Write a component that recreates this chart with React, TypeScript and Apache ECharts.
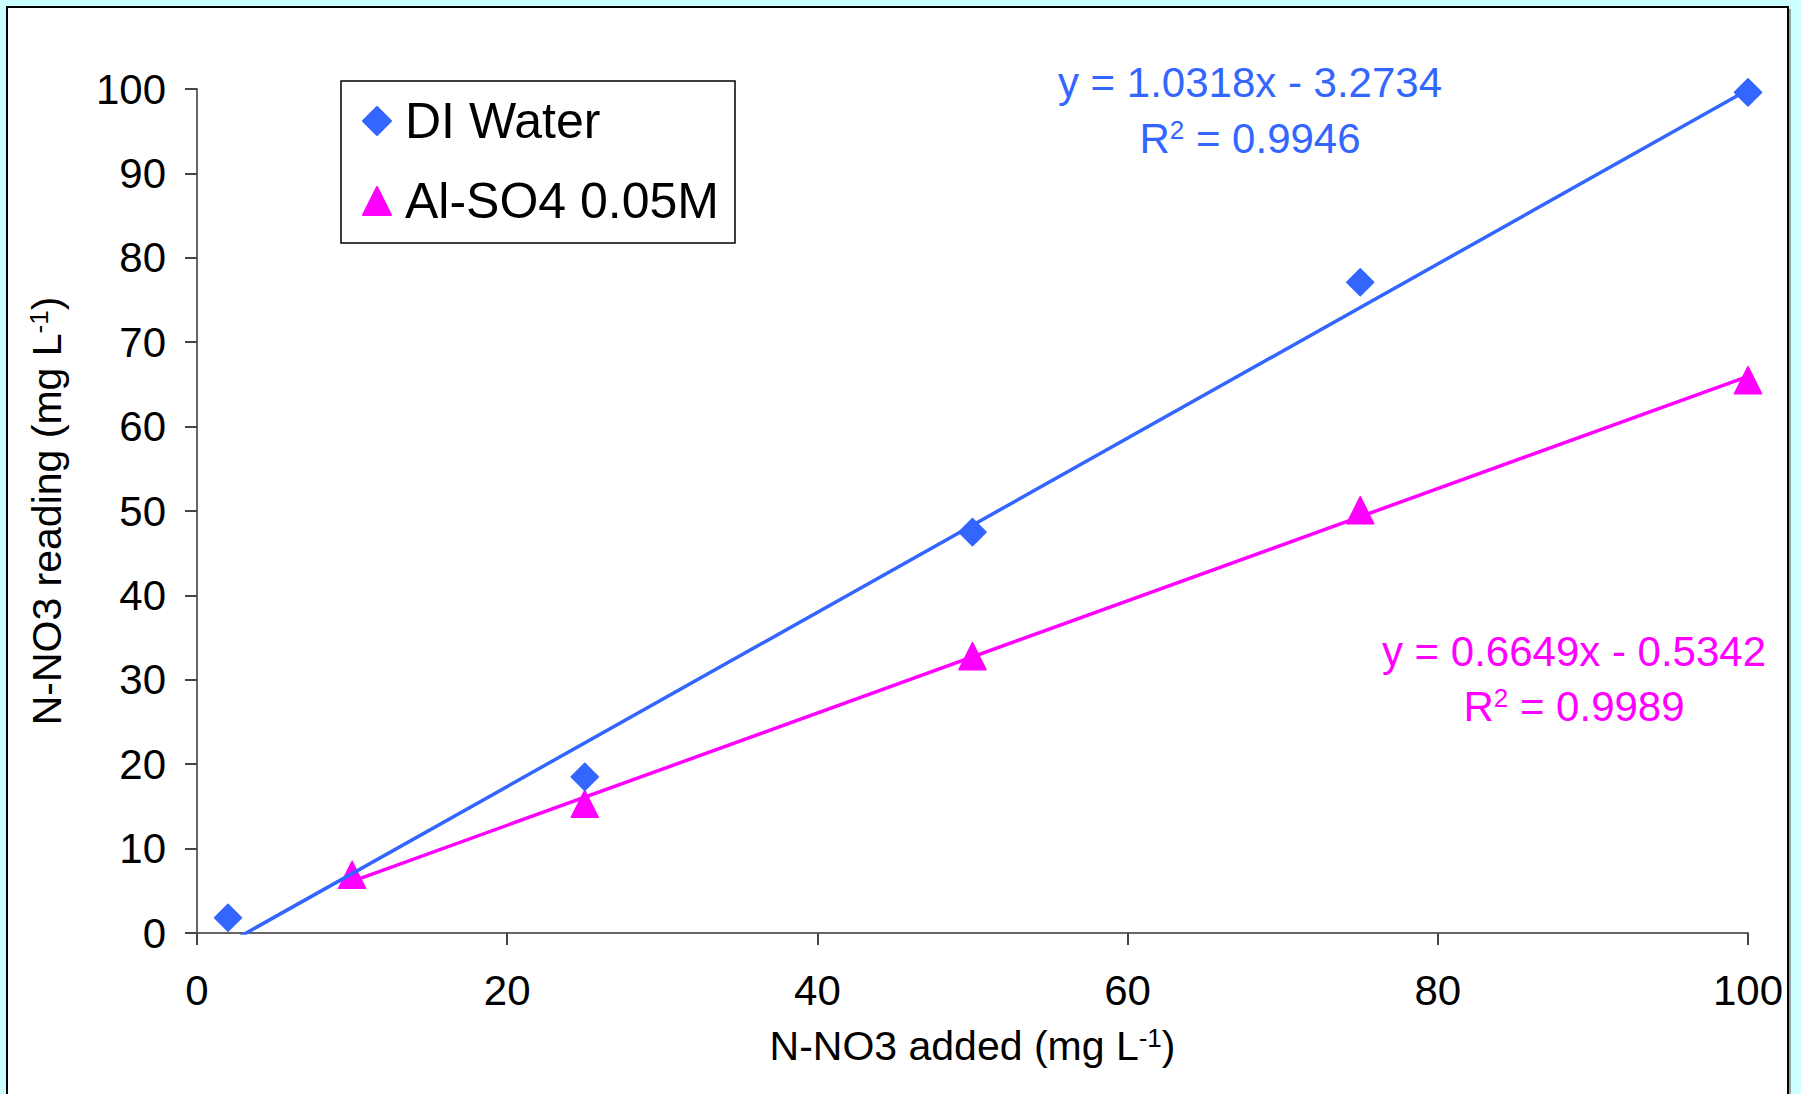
import React, { useEffect, useRef } from "react";
import * as echarts from "echarts";

// ---- data ----
const diName = "DI Water";
const alName = "Al-SO4 0.05M";
const diX = [2, 25, 50, 75, 100];
const diY = [1.8, 18.5, 47.5, 77.1, 99.6];
const alX = [10, 25, 50, 75, 100];
const alY = [6.9, 15.3, 32.8, 50.1, 65.5];
// trendline coefficients shown on the chart: [slope, intercept]
const diFit = [1.0318, -3.2734];
const alFit = [0.6649, -0.5342];
const diEq = ["y = 1.0318x - 3.2734", "R{s|2} = 0.9946"];
const alEq = ["y = 0.6649x - 0.5342", "R{s|2} = 0.9989"];
const xAxisTitle = "N-NO3 added (mg L{s|-1})";
const yAxisTitle = "N-NO3 reading (mg L{s|-1})";

const FONT = "'Liberation Sans', Arial, sans-serif";
const BLUE = "#3366FF";
const MAGENTA = "#FF00FF";

function pairs(xs: number[], ys: number[]) {
  return xs.map((x, i) => [x, ys[i]]);
}
function fitLine(xs: number[], fit: number[]) {
  const x0 = Math.min(...xs);
  const x1 = Math.max(...xs);
  return [
    [x0, fit[0] * x0 + fit[1]],
    [x1, fit[0] * x1 + fit[1]],
  ];
}

export default function App() {
  const ref = useRef<HTMLDivElement>(null);
  useEffect(() => {
    if (!ref.current) return;
    const chart = echarts.init(ref.current, null, { renderer: "svg" });
    const supRich = (color: string, sup: number) => ({
      s: { fontSize: sup, fontFamily: FONT, color, verticalAlign: "top" },
    });
    const eqText = (lines: string[], color: string, cx: number, ys: number[]) =>
      lines.map((t, i) => ({
        type: "text",
        x: cx,
        y: ys[i],
        z: 100,
        silent: true,
        style: {
          text: t,
          fill: color,
          fontSize: 42,
          fontFamily: FONT,
          align: "center",
          verticalAlign: "middle",
          rich: supRich(color, 26),
        },
      }));
    chart.setOption({
      animation: false,
      backgroundColor: "#CCFFFF",
      textStyle: { fontFamily: FONT },
      grid: { left: 197, right: 53, top: 89, bottom: 161, containLabel: false },
      graphic: [
        {
          type: "rect",
          z: -10,
          silent: true,
          shape: { x: 1789, y: 9, width: 2, height: 1100 },
          style: { fill: "#8fa3a3" },
        },
        {
          type: "rect",
          z: -10,
          silent: true,
          shape: { x: 7, y: 7, width: 1781, height: 1100 },
          style: { fill: "#ffffff", stroke: "#000000", lineWidth: 2 },
        },
        ...eqText(diEq, BLUE, 1250, [82, 138]),
        ...eqText(alEq, MAGENTA, 1574, [651, 706]),
      ],
      legend: {
        data: [
          { name: diName, icon: "diamond" },
          { name: alName, icon: "triangle" },
        ],
        orient: "vertical",
        left: 341,
        top: 81,
        itemWidth: 28,
        itemHeight: 28,
        itemGap: 30,
        padding: [15, 16, 17, 21],
        borderColor: "#000",
        borderWidth: 1.5,
        borderRadius: 0,
        backgroundColor: "#ffffff",
        selectedMode: false,
        textStyle: { fontSize: 50, fontFamily: FONT, color: "#000", padding: [0, 0, 0, 9] },
      },
      xAxis: {
        type: "value",
        min: 0,
        max: 100,
        interval: 20,
        name: xAxisTitle,
        nameLocation: "middle",
        nameGap: 92,
        nameTextStyle: {
          fontSize: 41,
          fontFamily: FONT,
          color: "#000",
          rich: { s: { fontSize: 26, fontFamily: FONT, color: "#000", verticalAlign: "top" } },
        },
        axisLine: { onZero: false, lineStyle: { color: "#666", width: 2 } },
        axisTick: { length: 12, lineStyle: { color: "#444", width: 2 } },
        axisLabel: { fontSize: 42, fontFamily: FONT, color: "#000", margin: 36 },
        splitLine: { show: false },
      },
      yAxis: {
        type: "value",
        min: 0,
        max: 100,
        interval: 10,
        name: yAxisTitle,
        nameLocation: "middle",
        nameGap: 130,
        nameTextStyle: {
          fontSize: 41,
          fontFamily: FONT,
          color: "#000",
          rich: { s: { fontSize: 26, fontFamily: FONT, color: "#000", verticalAlign: "top" } },
        },
        axisLine: { show: true, onZero: false, lineStyle: { color: "#666", width: 2 } },
        axisTick: { show: true, length: 12, lineStyle: { color: "#444", width: 2 } },
        axisLabel: { fontSize: 42, fontFamily: FONT, color: "#000", margin: 31 },
        splitLine: { show: false },
      },
      series: [
        {
          name: alName,
          type: "scatter",
          symbol: "triangle",
          symbolSize: 27,
          itemStyle: { color: MAGENTA, borderColor: MAGENTA, borderWidth: 1.5, borderJoin: "round", opacity: 1 },
          data: pairs(alX, alY),
          z: 3,
        },
        {
          name: alName + " trend",
          type: "line",
          data: fitLine(alX, alFit),
          symbol: "none",
          clip: true,
          silent: true,
          lineStyle: { color: MAGENTA, width: 3.5 },
          z: 4,
        },
        {
          name: diName,
          type: "scatter",
          symbol: "diamond",
          symbolSize: 27,
          itemStyle: { color: BLUE, borderColor: BLUE, borderWidth: 1.5, borderJoin: "round", opacity: 1 },
          data: pairs(diX, diY),
          z: 5,
        },
        {
          name: diName + " trend",
          type: "line",
          data: fitLine(diX, diFit),
          symbol: "none",
          clip: true,
          silent: true,
          lineStyle: { color: BLUE, width: 3.5 },
          z: 6,
        },
      ],
    });
    return () => chart.dispose();
  }, []);
  return (
    <div
      ref={ref}
      style={{ position: "fixed", left: 0, top: 0, width: 1801, height: 1094 }}
    />
  );
}
